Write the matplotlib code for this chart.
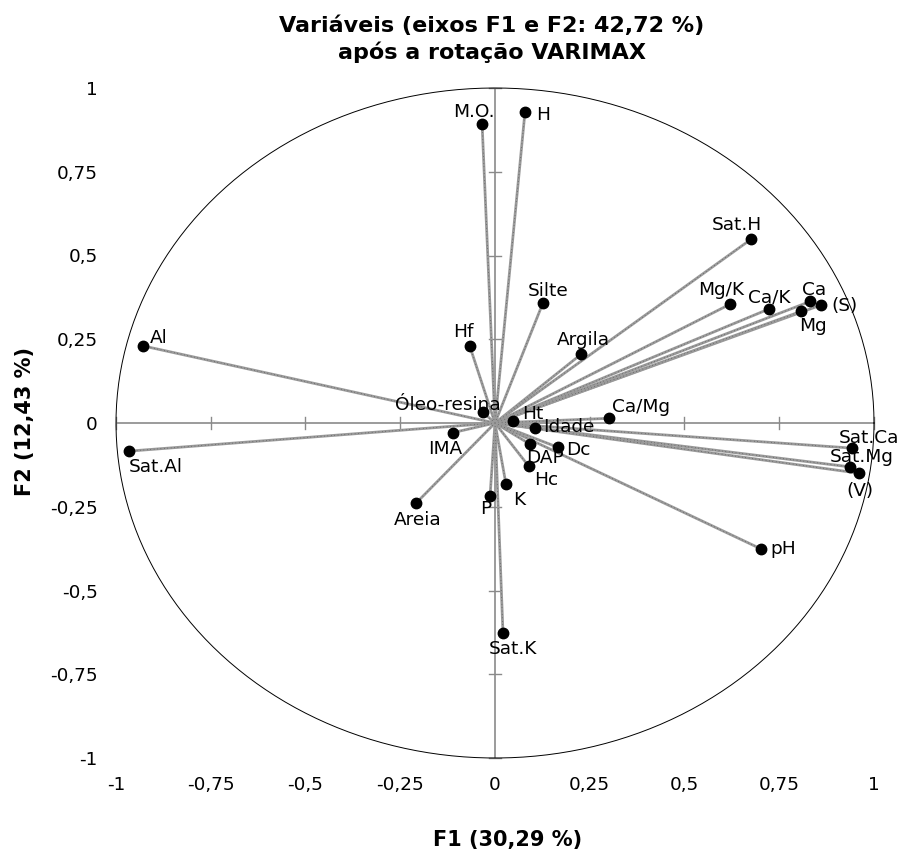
import matplotlib
matplotlib.use("Agg")
import matplotlib.pyplot as plt
import numpy as np

# nomes das variaveis e coordenadas (F1, F2) apos rotacao VARIMAX
nomes = ["Al", "Sat.Al", "M.O.", "H", "Mg/K", "Ca/K", "Ca", "(S)", "Mg",
         "Sat.Ca", "Sat.Mg", "(V)", "Hf", "Argila", "Óleo-resina", "Ht",
         "Idade", "Ca/Mg", "IMA", "DAP", "Dc", "Hc", "K", "P", "Areia",
         "Sat.K", "Silte", "Sat.H", "pH"]
f1 = [-0.928, -0.966, -0.034, 0.079, 0.621, 0.722, 0.832, 0.860, 0.807,
      0.942, 0.937, 0.961, -0.067, 0.228, -0.032, 0.047,
      0.106, 0.301, -0.112, 0.092, 0.167, 0.089, 0.029, -0.013, -0.209,
      0.021, 0.126, 0.675, 0.702]
f2 = [0.230, -0.084, 0.892, 0.927, 0.355, 0.340, 0.363, 0.352, 0.333,
      -0.075, -0.131, -0.150, 0.231, 0.206, 0.032, 0.007,
      -0.015, 0.014, -0.029, -0.063, -0.073, -0.129, -0.183, -0.217, -0.240,
      -0.626, 0.357, 0.548, -0.376]

ticks = [-1, -0.75, -0.5, -0.25, 0, 0.25, 0.5, 0.75, 1]
tick_labels = ["-1", "-0,75", "-0,5", "-0,25", "0", "0,25", "0,5", "0,75", "1"]

# posicao dos rotulos (pixels em relacao ao ponto) e alinhamento
label_pos = {
    "Al": (7, 3, "left"), "Sat.Al": (0, -21, "left"), "M.O.": (13, 7, "right"),
    "H": (11, -8, "left"), "Mg/K": (-9, 9, "center"), "Ca/K": (1, 7, "center"),
    "Ca": (4, 6, "center"), "(S)": (10, -6, "left"), "Mg": (-2, -20, "left"),
    "Sat.Ca": (17, 5, "center"), "Sat.Mg": (12, 5, "center"), "(V)": (1, -23, "center"),
    "Hf": (-6, 9, "center"), "Argila": (2, 9, "center"), "Óleo-resina": (18, 2, "right"),
    "Ht": (9, 2, "left"), "Idade": (8, -4, "left"), "Ca/Mg": (3, 6, "left"),
    "IMA": (-7, -21, "center"), "DAP": (-4, -19, "left"), "Dc": (8, -8, "left"),
    "Hc": (5, -19, "left"), "K": (7, -21, "left"), "P": (-4, -18, "center"),
    "Areia": (2, -22, "center"), "Sat.K": (10, -21, "center"), "Silte": (5, 7, "center"),
    "Sat.H": (-14, 9, "center"), "pH": (9, -5, "left"),
}


def main():
    fig = plt.figure(figsize=(9.03, 8.52), dpi=100)
    ax = fig.add_axes([116 / 903, 1 - 758 / 852, 758 / 903, 670 / 852])
    ax.set_xlim(-1, 1)
    ax.set_ylim(-1, 1)
    for s in ax.spines.values():
        s.set_visible(False)

    # eixos cinza com marcas
    ax.plot([-1, 1], [0, 0], color="#8a8a8a", lw=1.2, zorder=1)
    ax.plot([0, 0], [-1, 1], color="#8a8a8a", lw=1.2, zorder=1)
    for t in ticks:
        ax.plot([t, t], [-0.018, 0.018], color="#8a8a8a", lw=1.0, zorder=1, clip_on=False)
        ax.plot([-0.016, 0.016], [t, t], color="#8a8a8a", lw=1.0, zorder=1, clip_on=False)

    # circulo de correlacao
    ang = np.linspace(0, 2 * np.pi, 400)
    ax.plot(np.cos(ang), np.sin(ang), color="black", lw=0.7, zorder=1, clip_on=False)

    # vetores das variaveis
    for x, y in zip(f1, f2):
        ax.plot([0, x], [0, y], color="#9a9a9a", lw=2.0, zorder=2, solid_capstyle="butt")
        ax.plot([0, x], [0, y], color="black", lw=0.6, zorder=2, alpha=0.6,
                dashes=(0.6, 3.5))
    ax.plot(f1, f2, "o", color="black", ms=7.5, zorder=3, clip_on=False)

    for n, x, y in zip(nomes, f1, f2):
        dx, dy, ha = label_pos[n]
        ax.annotate(n, (x, y), xytext=(dx, dy), textcoords="offset pixels",
                    ha=ha, va="baseline", fontsize=13.3, zorder=4)

    ax.set_xticks(ticks)
    ax.set_xticklabels(tick_labels)
    ax.set_yticks(ticks)
    ax.set_yticklabels(tick_labels)
    ax.tick_params(length=0, labelsize=13.3, pad=13)

    fig.text(492 / 903, 1 - 32 / 852, "Variáveis (eixos F1 e F2: 42,72 %)",
             ha="center", va="baseline", fontsize=16, fontweight="bold")
    fig.text(492 / 903, 1 - 59 / 852, "após a rotação VARIMAX",
             ha="center", va="baseline", fontsize=16, fontweight="bold")
    fig.text(508 / 903, 1 - 846 / 852, "F1 (30,29 %)",
             ha="center", va="baseline", fontsize=15, fontweight="bold")
    fig.text(25 / 903, 1 - 421 / 852, "F2 (12,43 %)", rotation=90,
             ha="center", va="center", fontsize=15, fontweight="bold")

    fig.savefig("out.png", dpi=100)


if __name__ == "__main__":
    main()
